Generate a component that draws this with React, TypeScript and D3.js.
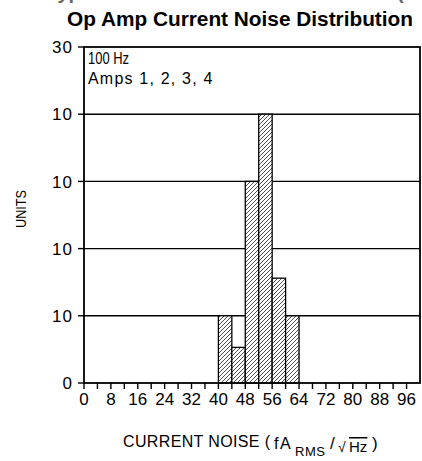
import React from "react";
import * as d3 from "d3";

const binStarts = [40, 44, 48, 52, 56, 60];
const binWidth = 4;
const binHeights = [1, 0.53, 3, 4, 1.56, 1];
const xTickValues = [0, 8, 16, 24, 32, 40, 48, 56, 64, 72, 80, 88, 96];
const yTickValues = [0, 1, 2, 3, 4, 5];
const yTickLabels = ["0", "10", "10", "10", "10", "30"];
const annotationLines = ["100 Hz", "Amps 1, 2, 3, 4"];

const W = 422;
const H = 461;
const L = 84, R = 420, T = 47, B = 383;
const FONT = "'Liberation Sans', Arial, sans-serif";

export default function App() {
  const x = d3.scaleLinear().domain([0, 100]).range([L, R]);
  const y = d3.scaleLinear().domain([0, 5]).range([B, T]);
  const minorTicks = d3.range(0, 100, 4);

  return (
    <svg width={W} height={H} style={{ position: "absolute", left: 0, top: 0, background: "#fff" }} fontFamily={FONT}>
      <defs>
        <pattern id="hatch" patternUnits="userSpaceOnUse" width={4} height={4}>
          <path d="M-1,1 l2,-2 M0,4 l4,-4 M3,5 l2,-2" stroke="#222" strokeWidth={0.8} />
        </pattern>
      </defs>
      <rect width={W} height={H} fill="#fff" />
      <text x={392} y={-1} textAnchor="end" fontSize={20} fontWeight="bold" fill="#666">Typical Performance Characteristics</text>
      <text x={397} y={-1} fontSize={20} fontWeight="bold" fill="#666">(Continued)</text>
      <text x={240} y={26} textAnchor="middle" fontSize={20} fontWeight="bold" fill="#000" textLength={346} lengthAdjust="spacingAndGlyphs">Op Amp Current Noise Distribution</text>

      {/* gridlines */}
      {yTickValues.slice(1, 5).map((v) => (
        <line key={"g" + v} x1={L} x2={R} y1={y(v)} y2={y(v)} stroke="#000" strokeWidth={1.4} />
      ))}

      {/* bars */}
      {binStarts.map((s, i) => (
        <g key={"b" + s}>
          <rect x={x(s)} y={y(binHeights[i])} width={x(s + binWidth) - x(s)} height={y(0) - y(binHeights[i])} fill="#fff" />
          <rect x={x(s)} y={y(binHeights[i])} width={x(s + binWidth) - x(s)} height={y(0) - y(binHeights[i])} fill="url(#hatch)" stroke="#000" strokeWidth={1.3} />
        </g>
      ))}

      {/* frame */}
      <rect x={L} y={T} width={R - L} height={B - T} fill="none" stroke="#000" strokeWidth={1.8} />

      {/* y ticks */}
      {yTickValues.map((v, i) => (
        <g key={"y" + v}>
          <line x1={L - 6} x2={L} y1={y(v)} y2={y(v)} stroke="#000" strokeWidth={1.4} />
          <text x={L - 11} y={y(v)} dy="0.36em" textAnchor="end" fontSize={17} letterSpacing={1} fill="#000">{yTickLabels[i]}</text>
        </g>
      ))}

      {/* x ticks */}
      {minorTicks.map((v) => (
        <line key={"xt" + v} x1={x(v)} x2={x(v)} y1={B} y2={B + 6} stroke="#000" strokeWidth={1.4} />
      ))}
      {xTickValues.map((v) => (
        <text key={"xl" + v} x={x(v)} y={405} textAnchor="middle" fontSize={17} fill="#000">{v}</text>
      ))}

      {/* annotation */}
      <text x={L + 4} y={64} fontSize={16} fill="#000" textLength={41} lengthAdjust="spacingAndGlyphs">{annotationLines[0]}</text>
      <text x={L + 4} y={84} fontSize={16} fill="#000" letterSpacing={1.2}>{annotationLines[1]}</text>

      {/* axis titles */}
      <text transform="translate(26,209) rotate(-90)" textAnchor="middle" fontSize={15} fill="#000" textLength={38} lengthAdjust="spacingAndGlyphs">UNITS</text>
      <text x={123} y={447} fontSize={16} fill="#000" textLength={147} lengthAdjust="spacing">CURRENT NOISE (</text>
      <text x={274} y={449} fontSize={16} fill="#000" letterSpacing={1.5}>fA</text>
      <text x={295} y={456} fontSize={13} fill="#000" letterSpacing={0.5}>RMS</text>
      <text x={330} y={449} fontSize={17} fill="#000">/</text>
      <text x={338} y={452} fontSize={14} fill="#000">√</text>
      <text x={349} y={452} fontSize={15} fill="#000" style={{ textDecoration: "overline" }}>Hz</text>
      <text x={372} y={449} fontSize={17} fill="#000">)</text>
    </svg>
  );
}
